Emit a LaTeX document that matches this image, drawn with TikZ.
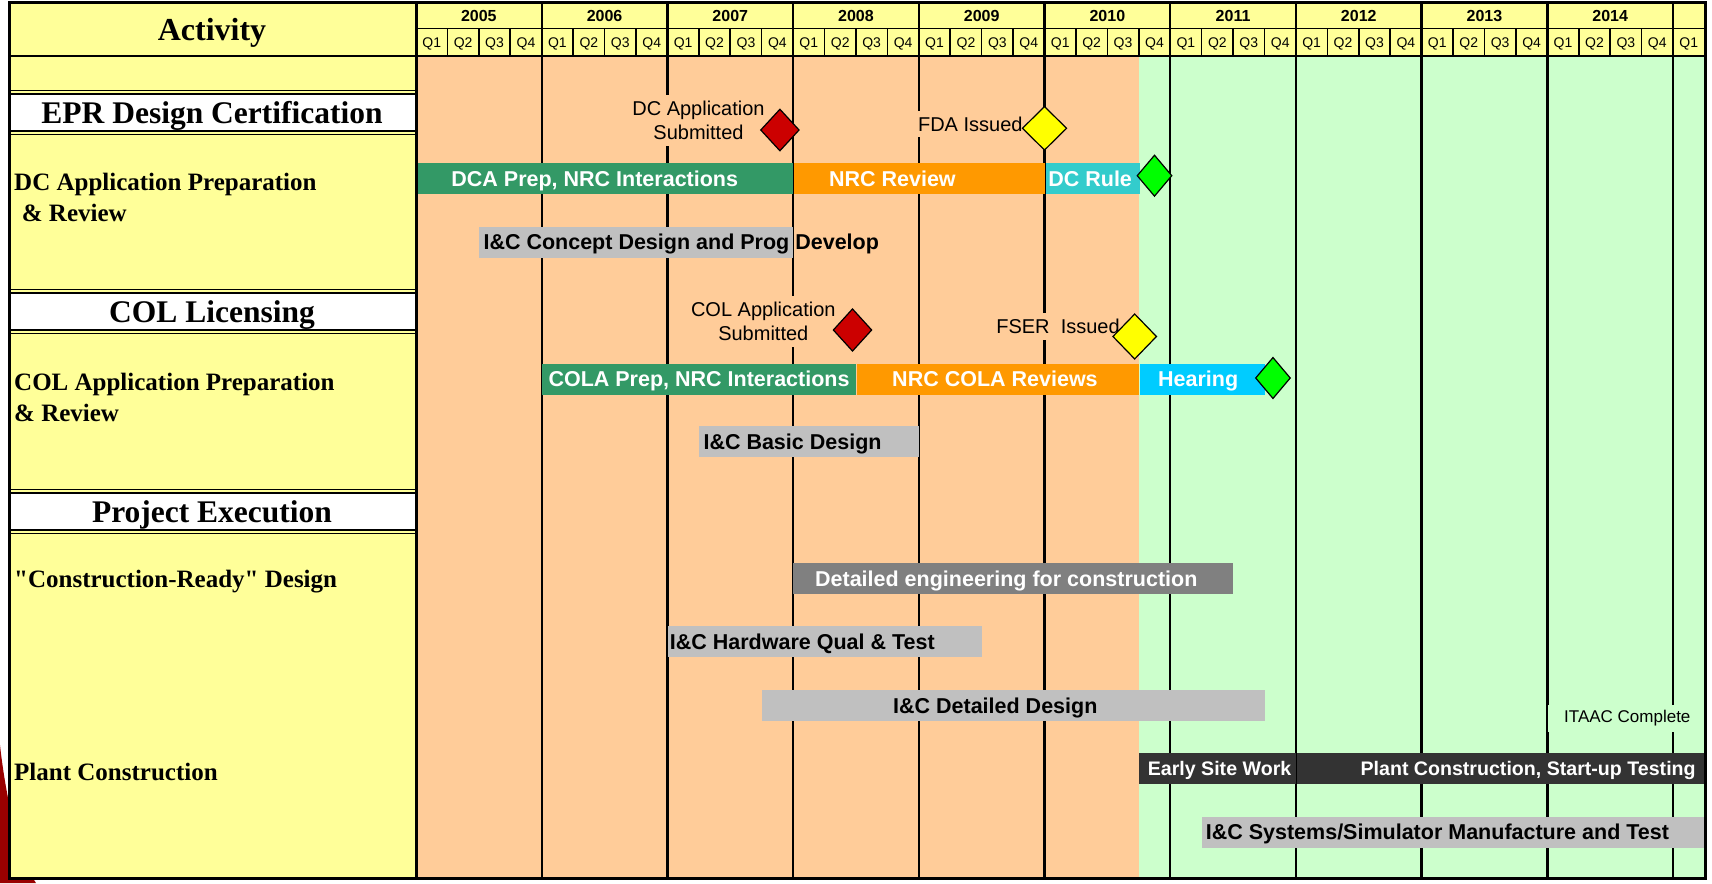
\documentclass[tikz,border=0pt]{standalone}
\usepackage{fontspec}
\setmainfont{Liberation Serif}
\setsansfont{Liberation Sans}
\usetikzlibrary{shapes.geometric}
\definecolor{chartYellow}{HTML}{FFFF99}
\definecolor{chartPeach}{HTML}{FFCC99}
\definecolor{chartMint}{HTML}{CCFFCC}
\definecolor{barGreen}{HTML}{339966}
\definecolor{barOrange}{HTML}{FF9900}
\definecolor{barTeal}{HTML}{33CCCC}
\definecolor{barSky}{HTML}{00CCFF}
\definecolor{barGrey}{HTML}{C0C0C0}
\definecolor{barDark}{HTML}{808080}
\definecolor{barBlack}{HTML}{333333}
\definecolor{mileRed}{HTML}{CC0000}
\definecolor{mileYellow}{HTML}{FFFF00}
\definecolor{mileGreen}{HTML}{00FF00}
\definecolor{slideRed}{HTML}{990000}

\def\xo{416}     % left edge of 2005
\def\qw{31.425}  % one quarter
\newcommand\plainquote{\XeTeXglyph\XeTeXcharglyph"22\relax}

\begin{document}
\begin{tikzpicture}[x=1pt, y=-1pt,
  bar/.style={anchor=west, minimum height=31pt, inner sep=0pt},
  bartext/.style={font=\fontsize{21.5}{24}\sffamily\bfseries, inner sep=0pt, text height=15.5pt, text depth=0pt},
  wtext/.style={bartext, text=white},
  btext/.style={bartext, text=black},
  mile/.style={diamond, draw=black, line width=1.2pt, inner sep=0pt},
  note/.style={font=\fontsize{20}{24}\sffamily, align=center, inner xsep=3pt, inner ysep=6pt},
  yearlbl/.style={font=\fontsize{16}{18}\sffamily\bfseries, inner sep=0pt, text height=11.5pt, text depth=0pt},
  qlbl/.style={font=\fontsize{14}{16}\sffamily, inner sep=0pt, text height=10pt, text depth=0pt},
  section/.style={font=\fontsize{31.5}{36}\bfseries, inner sep=0pt, text height=21pt, text depth=0pt},
  rowlbl/.style={font=\fontsize{25}{31}\bfseries, anchor=west, align=left, inner sep=0pt},
  yearline/.style={line width=2.4pt},
  qline/.style={line width=1.6pt},
  dbl/.style={line width=1.4pt},
  frame/.style={line width=3pt}
]
\useasboundingbox (0,0) rectangle (1712,883);
\fill[white] (0,0) rectangle (1712,883);

% slide decoration behind the table
\fill[slideRed] (0,745) .. controls (6,800) and (20,860) .. (36,883) -- (0,883) -- cycle;

% backgrounds
\fill[chartYellow] (9.5,3) rectangle (1705,878);
\fill[chartPeach] (\xo,56) rectangle ({\xo+23*\qw},878);
\fill[chartMint] ({\xo+23*\qw},56) rectangle (1705,878);
\fill[white] (9.5,94) rectangle (\xo,131);
\fill[white] (9.5,293) rectangle (\xo,330);
\fill[white] (9.5,493) rectangle (\xo,530);

% grid
\foreach \q in {1,...,40}
  \draw[qline] ({\xo+\q*\qw},28.3) -- ({\xo+\q*\qw},56);
\foreach \q in {4,8,...,40}
  \draw[yearline] ({\xo+\q*\qw},3) -- ({\xo+\q*\qw},878);
\draw[line width=1.4pt] (\xo,28.3) -- (1705,28.3);
\draw[line width=2.6pt] (9.5,56) -- (1705,56);
\foreach \yy in {92,132.8,291,331.8,491,531.8} {
  \draw[dbl] (9.5,{\yy-1.8}) -- (\xo,{\yy-1.8});
  \draw[dbl] (9.5,{\yy+1.8}) -- (\xo,{\yy+1.8});
}

% header
\foreach \yr [count=\i from 0] in {2005,...,2014}
  \node[yearlbl] (y\yr) at ({\xo+(4*\i+2)*\qw},15.6) {\yr};
\foreach \q in {0,...,40} {
  \pgfmathtruncatemacro\qn{mod(\q,4)+1}
  \node[qlbl] (q\q) at ({\xo+(\q+0.5)*\qw},42.3) {Q\qn};
}

% milestone notes
\node[note, fill=chartPeach] (dcsubtxt) at (698.5,120.3) {DC Application\\Submitted};
\node[note, fill=chartPeach] (fdatxt) at (970.3,124) {FDA Issued};
\node[note, fill=chartPeach] (colsubtxt) at (763.3,321.5) {COL Application\\Submitted};
\node[note, fill=chartPeach] (fsertxt) at (1058,326.5) {FSER\ \ Issued};
\node[bar, fill=chartMint, minimum width=148, minimum height=27] (itaacbox) at ({\xo+36*\qw},718.3) {};
\node[font=\fontsize{17}{20}\sffamily, inner sep=0pt] (itaac) at ([xshift=80pt]itaacbox.west) {ITAAC Complete};

% design certification
\node[bar, fill=barGreen, minimum width={12*\qw}] (dcaprep) at (\xo,178.5) {};
\node[bar, fill=barOrange, minimum width={8*\qw}] (nrcrev) at (dcaprep.east) {};
\node[bar, fill=barTeal, minimum width={3*\qw}] (dcrule) at (nrcrev.east) {};
\node[wtext] at ([xshift=-10pt]dcaprep.center) {DCA Prep, NRC Interactions};
\node[wtext] at ([xshift=-27pt]nrcrev.center) {NRC Review};
\node[wtext] at ([xshift=-2.5pt]dcrule.center) {DC Rule};
\node[bar, fill=barGrey, minimum width={10*\qw}] (icconcept) at ({\xo+2*\qw},242.2) {};
\node[btext, anchor=west] at ([xshift=4.5pt]icconcept.west) {I\&C Concept Design and Prog Develop};
\node[mile, fill=mileRed, minimum width=38.8, minimum height=42] (dcsub) at ({\xo+11.58*\qw},130) {};
\node[mile, fill=mileYellow, minimum width=44.6, minimum height=44] (fda) at ({\xo+20*\qw},128.3) {};
\node[mile, fill=mileGreen, minimum width=35, minimum height=41.4] (dcdone) at ({\xo+23.5*\qw},175.7) {};

% COL licensing
\node[bar, fill=barGreen, minimum width={10*\qw}] (colaprep) at ({\xo+4*\qw},379) {};
\node[bar, fill=barOrange, minimum width={9*\qw}] (nrccola) at (colaprep.east) {};
\node[bar, fill=barSky, minimum width={4*\qw}] (hearing) at (nrccola.east) {};
\node[wtext] at (colaprep.center) {COLA Prep, NRC Interactions};
\node[wtext] at ([xshift=-3pt]nrccola.center) {NRC COLA Reviews};
\node[wtext] at ([xshift=-4.5pt]hearing.center) {Hearing};
\node[bar, fill=barGrey, minimum width={7*\qw}] (icbasic) at ({\xo+9*\qw},441.7) {};
\node[btext, anchor=west] at ([xshift=4.5pt]icbasic.west) {I\&C Basic Design};
\node[mile, fill=mileRed, minimum width=38.8, minimum height=42.6] (colsub) at ({\xo+13.89*\qw},330) {};
\node[mile, fill=mileYellow, minimum width=44, minimum height=45.4] (fser) at ({\xo+22.87*\qw},336.5) {};
\node[mile, fill=mileGreen, minimum width=35, minimum height=41.4] (coldone) at ({\xo+27.27*\qw},378) {};

% project execution
\node[bar, fill=barDark, minimum width={14*\qw}] (deteng) at ({\xo+12*\qw},578.8) {};
\node[wtext] at ([xshift=-7pt]deteng.center) {Detailed engineering for construction};
\node[bar, fill=barGrey, minimum width={10*\qw}] (ichw) at ({\xo+8*\qw},641.8) {};
\node[btext, anchor=west] at ([xshift=2.3pt]ichw.west) {I\&C Hardware Qual \& Test};
\node[bar, fill=barGrey, minimum width={16*\qw}] (icdet) at ({\xo+11*\qw},705.5) {};
\node[btext] at ([xshift=-18pt]icdet.center) {I\&C Detailed Design};
\node[bar, fill=barBlack, minimum width={5*\qw}] (earlysite) at ({\xo+23*\qw},768.8) {};
\node[bar, fill=barBlack, minimum width={1705-\xo-28*\qw}] (plantcon) at (earlysite.east) {};
\draw[line width=1.5pt] (earlysite.north east) -- (earlysite.south east);
\node[wtext, font=\fontsize{19.6}{22}\sffamily\bfseries, text height=14.2pt] at ([xshift=2pt]earlysite.center) {Early Site Work};
\node[wtext, font=\fontsize{19.6}{22}\sffamily\bfseries, text height=14.2pt, anchor=east] at ([xshift=-10pt]plantcon.east) {Plant Construction, Start-up Testing};
\node[bar, fill=barGrey, minimum width={1705-\xo-25*\qw}] (icsys) at ({\xo+25*\qw},832.2) {};
\node[btext, anchor=west] at ([xshift=4pt]icsys.west) {I\&C Systems/Simulator Manufacture and Test};

% frame
\draw[frame] (9.5,3) rectangle (1705,878);
\draw[frame] (\xo,3) -- (\xo,878);

% activity column
\node[font=\fontsize{32}{36}\bfseries, inner sep=0pt, text height=21.5pt, text depth=0pt] (act) at (212,30) {Activity};
\node[section] (epr) at (212,112.5) {EPR Design Certification};
\node[section] (col) at (212,311.5) {COL Licensing};
\node[section] (pex) at (212,511.5) {Project Execution};
\node[rowlbl] (dcrow) at (14,197.8) {DC Application Preparation\\\hspace*{7.7pt}\& Review};
\node[rowlbl] (colrow) at (14,397.5) {COL Application Preparation\\\& Review};
\node[rowlbl] (crd) at (14,581.7) {\plainquote Construction-Ready\plainquote\ Design};
\node[rowlbl] (plant) at (14,771.7) {Plant Construction};
\end{tikzpicture}
\end{document}
